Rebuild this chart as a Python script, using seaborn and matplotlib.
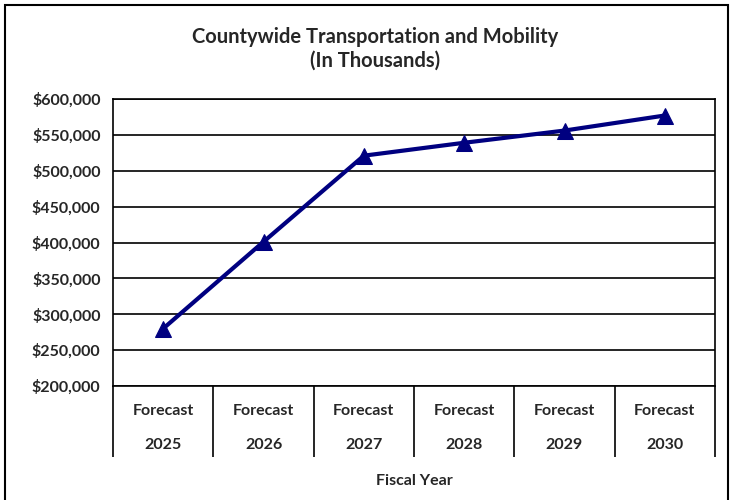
import seaborn as sns
import matplotlib.pyplot as plt
import matplotlib.patches as patches
import pandas as pd
import numpy as np

years = ['2025', '2026', '2027', '2028', '2029', '2030']
amounts = [280000, 401000, 521000, 539000, 556000, 577000]
y_ticks = [200000, 250000, 300000, 350000, 400000, 450000, 500000, 550000, 600000]

sns.set_style("white")
plt.rcParams['font.family'] = ['Lato', 'DejaVu Sans']
plt.rcParams['font.weight'] = 'bold'

df = pd.DataFrame({'pos': np.arange(len(years)), 'amount': amounts})

fig = plt.figure(figsize=(7.3, 5.0), dpi=100)
ax = fig.add_axes([113 / 730, 1 - 386 / 500, (715 - 113) / 730, (386 - 99) / 500])

sns.lineplot(data=df, x='pos', y='amount', color='#000080', linewidth=3,
             marker='^', markersize=12, markeredgecolor='#000080', ax=ax)

ax.set_xlim(-0.5, len(years) - 0.5)
ax.set_ylim(200000, 600000)
ax.set_yticks(y_ticks)
ax.set_yticklabels([f"${v:,.0f}" for v in y_ticks], fontsize=11.5, fontweight='bold')
ax.yaxis.grid(True, color='black', linewidth=1.2)
ax.tick_params(axis='y', length=0, pad=9)

# category separators below the axis, labels in between
ax.set_xticks(np.arange(-0.5, len(years)))
ax.set_xticklabels([])
ax.tick_params(axis='x', which='major', bottom=True, length=51, width=1.2,
               color='black', direction='out')
ax.set_xticks(np.arange(len(years)), minor=True)
ax.set_xticklabels([f"Forecast\n{y}" for y in years], minor=True, fontsize=11.5, fontweight='bold')
ax.tick_params(axis='x', which='minor', bottom=True, length=0, pad=13)
plt.setp(ax.get_xticklabels(minor=True), linespacing=2.8)

ax.set_xlabel('Fiscal Year', fontsize=11.5, fontweight='bold', labelpad=9)
ax.set_ylabel('')

for s in ax.spines.values():
    s.set_color('black')
    s.set_linewidth(1.2)

fig.text(375 / 730, 1 - 37 / 500, 'Countywide Transportation and Mobility',
         ha='center', va='center', fontsize=14.5, fontweight='bold')
fig.text(375 / 730, 1 - 61 / 500, '(In Thousands)',
         ha='center', va='center', fontsize=14.5, fontweight='bold')

border = patches.Rectangle((5 / 730, -0.02), 723 / 730, 1.02 - 5 / 500,
                           transform=fig.transFigure, fill=False,
                           edgecolor='black', linewidth=1.5, clip_on=False)
fig.patches.append(border)

fig.savefig('out.png', dpi=100)
